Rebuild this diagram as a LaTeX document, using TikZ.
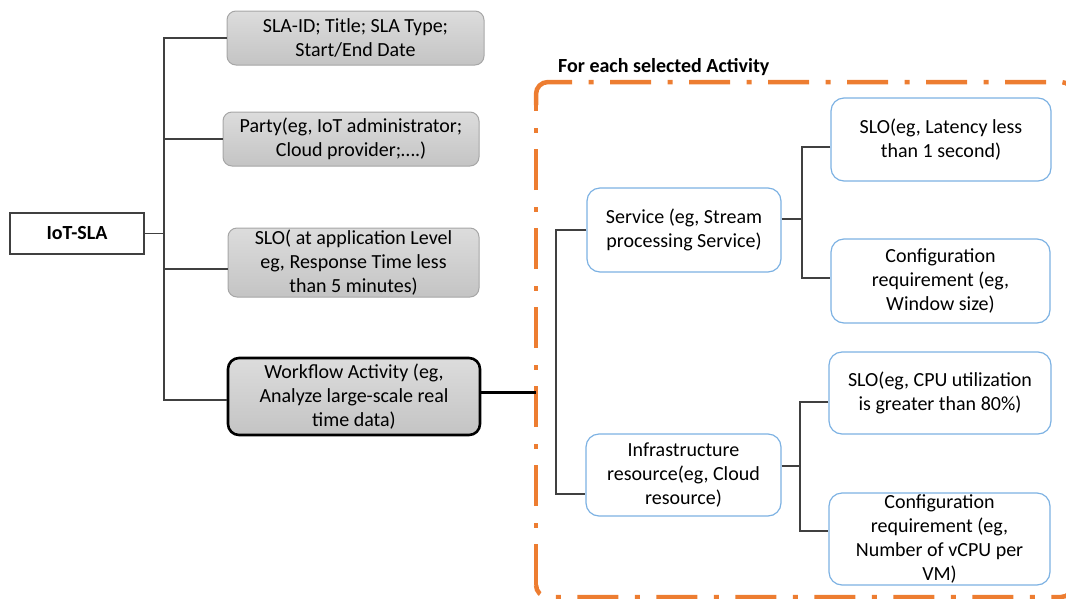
\documentclass[tikz,border=0pt]{standalone}
\usepackage{fontspec}
\setmainfont{Carlito}
\definecolor{boxedge}{HTML}{A6A6A6}
\definecolor{greytop}{HTML}{DCDCDC}
\definecolor{greybot}{HTML}{C4C4C4}
\definecolor{linkgrey}{HTML}{404040}
\definecolor{blueedge}{HTML}{7DB2E3}
\definecolor{frameorange}{HTML}{ED7D31}
\tikzset{
  txt/.style={font=\fontsize{20}{24}\selectfont, align=center, inner sep=0pt},
  greybox/.style={txt, draw=boxedge, line width=1pt, rounded corners=9pt,
    top color=greytop, bottom color=greybot},
  activitybox/.style={greybox, draw=black, line width=2.6pt, rounded corners=11pt},
  rootbox/.style={txt, draw=linkgrey, line width=1.4pt, fill=white,
    font=\fontsize{20}{24}\selectfont\bfseries},
  bluebox/.style={txt, draw=blueedge, line width=1.2pt, rounded corners=13pt, fill=white},
  link/.style={draw=linkgrey, line width=1.1pt},
  framedash/.style={draw=frameorange, line width=4.5pt,
    dash pattern=on 41pt off 16.5pt on 5pt off 16.5pt},
}
\begin{document}
\begin{tikzpicture}[x=1pt,y=-1pt]
\useasboundingbox (0,0) rectangle (1066,598);

% dash-dot frame around the per-activity part
\begin{scope}
  \clip (0,0) rectangle (1066,598);
  \draw[draw=frameorange, line width=4.5pt, rounded corners=12pt]
    (536,105) -- (536,82) -- (572,82);
  \draw[framedash, dash phase=41pt, rounded corners=12pt]
    (572,82) -- (1073,82) -- (1073,597) -- (536,597) -- (536,585);
  \draw[framedash] (536,585) -- (536,105);
\end{scope}
\node[anchor=west, font=\fontsize{20}{24}\selectfont\bfseries, inner sep=0pt]
  (lbl) at (558,67) {For each selected Activity};

% left tree
\node[rootbox, minimum width=134pt, minimum height=41pt] (iot) at (77,233.5) {IoT-SLA};
\node[greybox, minimum width=257pt, minimum height=54pt] (b1) at (355.5,38)
  {SLA-ID; Title; SLA Type;\\Start/End Date};
\node[greybox, minimum width=256pt, minimum height=54pt] (b2) at (351,139)
  {Party(eg, IoT administrator;\\Cloud provider;\dots.)};
\node[greybox, minimum width=251pt, minimum height=69pt] (b3) at (353.5,262.5)
  {SLO( at application Level\\eg, Response Time less\\than 5 minutes)};
\node[activitybox, minimum width=252pt, minimum height=77pt] (wf) at (354,396.5)
  {Workflow Activity (eg,\\Analyze large-scale real\\time data)};

\coordinate (trunk) at (164,0);
\draw[link] (b1.west) -- (b1.west -| trunk) -- ([yshift=-3.5pt]wf.west -| trunk)
  -- ([yshift=-3.5pt]wf.west);
\draw[link] (b2.west) -- (b2.west -| trunk);
\draw[link] ([yshift=-6.5pt]b3.west) -- ([yshift=-6.5pt]b3.west -| trunk);
\draw[link] (iot.east) -- (iot.east -| trunk);

\coordinate (frameW) at (536,392);
\draw[black, line width=3pt] (wf.east |- frameW) -- (frameW);

% right tree
\node[bluebox, minimum width=194pt, minimum height=84pt] (svc) at (684,230)
  {Service (eg, Stream\\processing Service)};
\node[bluebox, minimum width=220pt, minimum height=83pt] (slo1) at (941,139.5)
  {SLO(eg, Latency less\\than 1 second)};
\node[bluebox, minimum width=219pt, minimum height=84pt] (cfg1) at (940.5,281)
  {Configuration\\requirement (eg,\\Window size)};
\node[bluebox, minimum width=195pt, minimum height=82pt] (infra) at (683.5,475)
  {Infrastructure\\resource(eg, Cloud\\resource)};
\node[bluebox, minimum width=222pt, minimum height=82pt] (slo2) at (940,393)
  {SLO(eg, CPU utilization\\is greater than 80\%)};
\node[bluebox, minimum width=221pt, minimum height=92pt] (cfg2) at (939.5,539)
  {Configuration\\requirement (eg,\\Number of vCPU per\\VM)};

\coordinate (sx) at (556,0);
\draw[link] (svc.west) -- (svc.west -| sx) -- ([yshift=-19pt]infra.west -| sx)
  -- ([yshift=-19pt]infra.west);

\coordinate (sv) at (802,0);
\draw[link] ([yshift=11pt]svc.east) -- ([yshift=11pt]svc.east -| sv);
\draw[link] ([yshift=-7.5pt]slo1.west) -- ([yshift=-7.5pt]slo1.west -| sv)
  -- ([yshift=3pt]cfg1.west -| sv) -- ([yshift=3pt]cfg1.west);

\coordinate (iv) at (800,0);
\draw[link] ([yshift=9pt]infra.east) -- ([yshift=9pt]infra.east -| iv);
\draw[link] ([yshift=-9pt]slo2.west) -- ([yshift=-9pt]slo2.west -| iv)
  -- ([yshift=8pt]cfg2.west -| iv) -- ([yshift=8pt]cfg2.west);
\end{tikzpicture}
\end{document}
